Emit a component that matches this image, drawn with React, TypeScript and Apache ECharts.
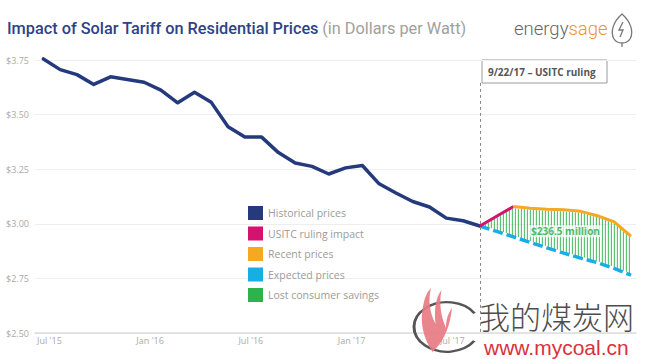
import React, { useEffect, useRef } from 'react';
import * as echarts from 'echarts';

// ---- data ----
const tickLabels = ["Jul '15", "Jan '16", "Jul '16", "Jan '17", "Jul '17"];
const tickIndices = [0, 6, 12, 18, 24];
const yTickValues = [2.5, 2.75, 3.0, 3.25, 3.5, 3.75];
const historical = [
  3.755, 3.706, 3.683, 3.638, 3.673, 3.661, 3.648, 3.612, 3.554, 3.602,
  3.556, 3.444, 3.397, 3.397, 3.326, 3.278, 3.263, 3.228, 3.256, 3.267,
  3.183, 3.141, 3.102, 3.077, 3.026, 3.014, 2.99,
];
const rulingIndex = 26;
const rulingLineTop = 3.645;
const usitcIndices = [26, 28];
const usitcImpact = [2.99, 3.079];
const recentStart = 28;
const recent = [3.079, 3.071, 3.067, 3.064, 3.057, 3.037, 3.009, 2.943];
const expectedStart = 26;
const expected = [2.99, 2.965, 2.94, 2.915, 2.89, 2.866, 2.843, 2.822, 2.796, 2.765];
const savingsText = '$236.5 million';
const savingsLabelAt = [31.1, 2.966];
const rulingText = '9/22/17 \u2013 USITC ruling';

const C_HIST = '#253a7d';
const C_USITC = '#d4136f';
const C_RECENT = '#f7a823';
const C_EXPECTED = '#16aee5';
const C_SAVINGS = '#2db34a';

const FONT = '"Open Sans", "DejaVu Sans", sans-serif';

const usitcPts = usitcIndices.map((x, i) => [x, usitcImpact[i]]);
const recentPts = recent.map((v, i) => [recentStart + i, v]);
const expectedPts = expected.map((v, i) => [expectedStart + i, v]);
const topPts = [...usitcPts, ...recentPts.slice(1)];

function interp(pts: number[][], x: number) {
  for (let i = 0; i < pts.length - 1; i++) {
    const a = pts[i], b = pts[i + 1];
    if (x >= a[0] && x <= b[0]) {
      const t = (x - a[0]) / (b[0] - a[0] || 1);
      return a[1] + t * (b[1] - a[1]);
    }
  }
  return pts[pts.length - 1][1];
}

echarts.graphic.registerShape(
  'flame',
  echarts.graphic.extendPath(
    'M22,64 C10,50 4,34 10,16 C12,8 16,3 20,0 C16,12 18,24 26,36 C24,22 26,10 34,2 C30,16 34,30 40,40 C40,30 44,24 48,20 C46,34 40,52 22,64 Z',
    {}
  )
);
echarts.graphic.registerShape(
  'leaf',
  echarts.graphic.extendPath(
    'M10,0 C19,8 22,18 18,25 C16,28 13,29 10,29 C7,29 4,28 2,25 C-2,18 1,8 10,0 Z M10,29 L10,33 M11,8 L7,16 L11,16 L8,23',
    {}
  )
);

export default function App() {
  const ref = useRef<HTMLDivElement>(null);
  useEffect(() => {
    document.body.style.margin = '0';
    if (!ref.current) return;
    const chart = echarts.init(ref.current, null, { renderer: 'svg' });
    const option: any = {
      animation: false,
      backgroundColor: '#ffffff',
      grid: { left: 35, right: 18, top: 60, bottom: 26, containLabel: false },
      xAxis: {
        type: 'value',
        min: -0.5,
        max: 35.3,
        axisLine: { show: true, lineStyle: { color: '#dddddd', width: 1.5 } },
        axisTick: { show: false },
        splitLine: { show: false },
        axisLabel: {
          customValues: tickIndices,
          formatter: (v: number) => {
            const i = tickIndices.indexOf(Math.round(v));
            return i >= 0 ? tickLabels[i] : '';
          },
          color: '#aaaaaa',
          fontSize: 9,
          fontFamily: FONT,
          margin: 3,
          padding: [0, 0, 0, 12],
        },
      },
      yAxis: {
        type: 'value',
        min: 2.5,
        max: 3.75,
        interval: 0.25,
        axisLine: { show: false },
        axisTick: { show: false },
        splitLine: { show: true, lineStyle: { color: '#eeeeee', width: 1 } },
        axisLabel: {
          formatter: (v: number) => (yTickValues.some((t) => Math.abs(t - v) < 1e-6) ? '$' + v.toFixed(2) : ''),
          color: '#aaaaaa',
          fontSize: 9,
          fontFamily: FONT,
          margin: 6,
        },
      },
      legend: {
        orient: 'vertical',
        left: 248,
        top: 206,
        padding: 0,
        itemWidth: 15,
        itemHeight: 14,
        itemGap: 6.5,
        icon: 'rect',
        selectedMode: false,
        textStyle: { color: '#9b9b9b', fontSize: 10.5, fontFamily: FONT, lineHeight: 14 },
        data: [
          { name: 'Historical prices', itemStyle: { color: C_HIST } },
          { name: 'USITC ruling impact', itemStyle: { color: C_USITC } },
          { name: 'Recent prices', itemStyle: { color: C_RECENT } },
          { name: 'Expected prices', itemStyle: { color: C_EXPECTED } },
          { name: 'Lost consumer savings', itemStyle: { color: C_SAVINGS } },
        ],
      },
      series: [
        {
          name: 'Lost consumer savings',
          type: 'custom',
          z: 1,
          itemStyle: { color: C_SAVINGS },
          data: [[rulingIndex, expected[0]]],
          renderItem: (params: any, api: any) => {
            const tp = topPts.map((p) => api.coord(p));
            const bp = expectedPts.map((p) => api.coord(p));
            const x0 = tp[0][0];
            const x1 = tp[tp.length - 1][0];
            const children: any[] = [];
            for (let x = x0 + 2.5; x <= x1; x += 3) {
              const yt = interp(tp, x);
              const yb = interp(bp, x);
              children.push({
                type: 'line',
                shape: { x1: x, y1: yt + 1.5, x2: x, y2: yb - 1.5 },
                style: { stroke: C_SAVINGS, lineWidth: 1, opacity: 0.9 },
              });
            }
            return { type: 'group', children };
          },
        },
        {
          name: 'Historical prices',
          type: 'line',
          z: 3,
          clip: false,
          showSymbol: false,
          data: historical.map((v, i) => [i, v]),
          lineStyle: { color: C_HIST, width: 3.5, join: 'round', cap: 'round' },
          itemStyle: { color: C_HIST },
          markLine: {
            silent: true,
            symbol: ['none', 'none'],
            label: { show: false },
            lineStyle: { color: '#8a8a8a', type: [3, 3], width: 1 },
            data: [[{ coord: [rulingIndex, rulingLineTop] }, { coord: [rulingIndex, 2.5] }]],
          },
        },
        {
          name: 'Expected prices',
          type: 'line',
          z: 2,
          clip: false,
          showSymbol: false,
          data: expectedPts,
          lineStyle: { color: C_EXPECTED, width: 3.5, type: [10, 4] },
          itemStyle: { color: C_EXPECTED },
        },
        {
          name: 'USITC ruling impact',
          type: 'line',
          z: 4,
          clip: false,
          showSymbol: false,
          data: usitcPts,
          lineStyle: { color: C_USITC, width: 3 },
          itemStyle: { color: C_USITC },
        },
        {
          name: 'Recent prices',
          type: 'line',
          z: 4,
          clip: false,
          showSymbol: false,
          data: recentPts,
          lineStyle: { color: C_RECENT, width: 3 },
          itemStyle: { color: C_RECENT },
        },
        {
          name: 'savings-label',
          type: 'scatter',
          z: 5,
          symbolSize: 0,
          data: [savingsLabelAt],
          label: {
            show: true,
            position: 'inside',
            formatter: savingsText,
            color: '#22a845',
            fontWeight: 'bold',
            fontSize: 10,
            fontFamily: FONT,
            backgroundColor: 'rgba(255,255,255,0.9)',
            padding: [1, 2],
          },
        },
      ],
      graphic: [
        {
          type: 'text',
          left: 7,
          top: 20,
          style: {
            text: '{a|Impact of Solar Tariff on Residential Prices} {b|(in Dollars per Watt)}',
            rich: {
              a: { fill: '#2e4287', fontSize: 16.3, fontWeight: 500, fontFamily: 'Roboto, sans-serif' },
              b: { fill: '#a0a0a0', fontSize: 16.3, fontWeight: 400, fontFamily: 'Roboto, sans-serif' },
            },
          },
        },
        {
          type: 'text',
          left: 514,
          top: 19,
          style: {
            text: '{e|energy}{s|sage}',
            rich: {
              e: { fill: '#666666', fontSize: 18.5, fontWeight: 300, fontFamily: 'Roboto, sans-serif' },
              s: { fill: '#e8963a', fontSize: 18.5, fontWeight: 300, fontFamily: 'Roboto, sans-serif' },
            },
          },
        },
        {
          type: 'leaf',
          x: 612,
          y: 14,
          scaleX: 1,
          scaleY: 1,
          style: { fill: 'none', stroke: '#777777', lineWidth: 1.3 },
        },
        {
          type: 'group',
          x: 482,
          y: 60,
          children: [
            {
              type: 'rect',
              shape: { x: 0, y: 0, width: 125, height: 23 },
              style: { fill: '#ffffff', stroke: '#9a9a9a', lineWidth: 1 },
            },
            {
              type: 'text',
              x: 6,
              y: 11.5,
              style: {
                text: rulingText,
                fill: '#555555',
                fontSize: 10,
                fontWeight: 'bold',
                fontFamily: FONT,
                verticalAlign: 'middle',
              },
            },
          ],
        },
        // watermark
        {
          type: 'arc',
          x: 447,
          y: 327,
          scaleY: 0.75,
          shape: { cx: 0, cy: 0, r: 33, startAngle: 0.6, endAngle: 5.7 },
          style: { fill: 'none', stroke: '#555555', lineWidth: 3 },
          z: 100,
        },
        {
          type: 'flame',
          x: 416,
          y: 288,
          scaleX: 0.75,
          scaleY: 1.0,
          style: { fill: '#e77b82', opacity: 0.92 },
          z: 101,
        },
        {
          type: 'text',
          left: 479,
          top: 299,
          z: 101,
          style: {
            text: '我的煤炭网',
            fill: '#4d4d4d',
            fontSize: 31,
            lineHeight: 32,
            fontWeight: 300,
            fontFamily: '"Noto Sans CJK SC", sans-serif',
          },
        },
        {
          type: 'text',
          left: 484,
          top: 337,
          z: 101,
          style: {
            text: 'www.mycoal.cn',
            fill: '#d8323c',
            fontSize: 21,
            lineHeight: 20,
            fontFamily: '"Liberation Sans", Arial, sans-serif',
          },
        },
      ],
    };
    chart.setOption(option);
    return () => chart.dispose();
  }, []);
  return <div ref={ref} style={{ width: 654, height: 359 }} />;
}
